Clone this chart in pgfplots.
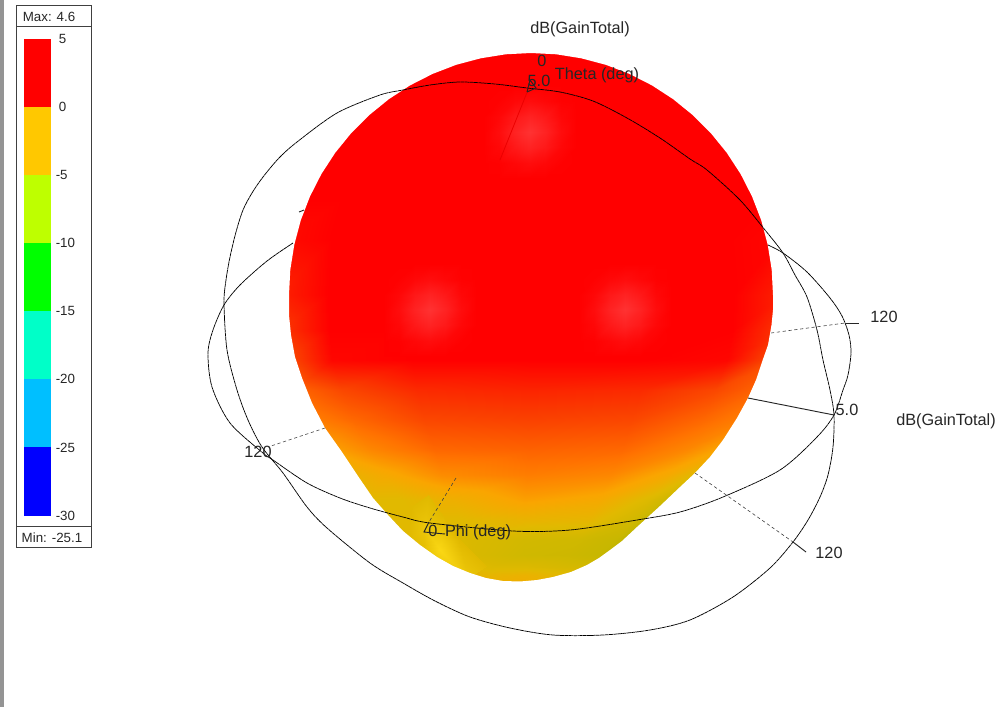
\documentclass[border=0pt]{standalone}
\usepackage{pgfplots}
\usepackage{pgfplotstable}
\usepackage{fontspec}
\setmainfont{Liberation Sans}
\pgfplotsset{compat=1.18}

\newcommand{\lab}{\fontsize{12.2}{14}\selectfont}
\newcommand{\sml}{\fontsize{10}{12}\selectfont}

% pattern surface in pixels of the reference: x y colour index
% (first and last columns run past the outline, the mask trims them)
\pgfplotstableread{
x y m
500 48 10
520.4 48 10
525.5 48 10
533 48 10
540.5 48 10
545.6 48 10
566 48 10
461 60 10
482.3 60 10
502 60 10
531 60 10
560 60 10
579.7 60 10
601 60 10
408 80 10
437.8 80 10
475.5 80 10
531 80 10
586.5 80 10
624.2 80 10
654 80 10
376 100 10
410.9 100 10
459.5 100 10
531 100 10
602.5 100 10
651.1 100 10
686 100 10
342 130 10
382.3 130 10
442.5 130 10
531 130 10
619.5 130 10
679.7 130 10
720 130 10
318 160 10
362.2 160 10
430.5 160 10
531 160 10
631.5 160 10
699.8 160 10
744 160 10
294 200 10
341.8 200 10
418 200 10
530 200 10
642 200 10
718.2 200 10
766 200 10
281 240 12
330.9 240 10
411.5 240 10
530 240 10
648.5 240 10
729.1 240 10
779 240 11
277 295 16
327.7 295 10
410 295 10
531 295 10
652 295 10
734.3 295 10
785 295 16
278 330 20
328.6 330 10
410.5 330 10
531 330 10
651.5 330 10
733.4 330 10
784 330 20
283 360 24
332.5 360 11
412.3 360 10
529.5 360 10
646.8 360 10
726.5 360 11
776 360 24
294 390 28
341.6 390 22
417.3 390 17
528.5 390 16
639.8 390 17
715.4 390 22
763 390 28
308 420 33
353.3 420 28
424 420 22
528 420 21
632 420 22
702.7 420 28
748 420 33
329 450 40
371 450 34
434.8 450 28
528.5 450 27
622.3 450 28
686 450 34
728 450 42
346 475 47
385 475 42
442.3 475 35
526.5 475 32
610.8 475 34
668 475 42
707 475 54
366 500 50
401.5 500 50
451.5 500 45
525 500 39
598.5 500 42
648.5 500 52
684 500 64
383 520 50
415.7 520 50
459.8 520 50
524.5 520 47
589.3 520 48
633.3 520 56
666 520 68
405 540 50
434.2 540 50
470.8 540 53
524.5 540 56
578.3 540 57
614.8 540 60
644 540 66
424 555 50
450.1 555 50
480 555 54
524 555 57
568 555 58
597.9 555 60
624 555 62
446 567 50
468.7 567 50
491.5 567 52
525 567 52
558.5 567 54
581.3 567 55
604 567 55
470 575 48
488.9 575 48
503.5 575 47
525 575 46
546.5 575 48
561.1 575 50
580 575 50
490 584 44
507.8 584 44
513.8 584 44
522.5 584 44
531.3 584 44
537.2 584 44
555 584 44
}\blob

% light spot, offsets in units of its radius
\pgfplotstableread{
dx dy m
-1 -1 10
-.667 -1 10
-.333 -1 10
0 -1 10
.333 -1 10
.667 -1 10
1 -1 10
-1 -.667 10
-.667 -.667 9.7
-.333 -.667 8.5
0 -.667 7.5
.333 -.667 8.5
.667 -.667 9.7
1 -.667 10
-1 -.333 10
-.667 -.333 8.5
-.333 -.333 5
0 -.333 3
.333 -.333 5
.667 -.333 8.5
1 -.333 10
-1 0 10
-.667 0 7.5
-.333 0 3
0 0 0
.333 0 3
.667 0 7.5
1 0 10
-1 .333 10
-.667 .333 8.5
-.333 .333 5
0 .333 3
.333 .333 5
.667 .333 8.5
1 .333 10
-1 .667 10
-.667 .667 9.7
-.333 .667 8.5
0 .667 7.5
.333 .667 8.5
.667 .667 9.7
1 .667 10
-1 1 10
-.667 1 10
-.333 1 10
0 1 10
.333 1 10
.667 1 10
1 1 10
}\spot

% bright streak at the lower left
\pgfplotstableread{
x y m
396 518 0
412 506 0
428 495 0
407 540 0
425 528 30
443 516 0
422 562 0
440 550 70
458 538 0
450 590 0
468 578 30
486 566 0
}\streak

\pgfplotsset{
  bar/.style={draw=none, mark=none},
  wire/.style={mark=none, black, line width=0.55pt, dash pattern=on 3pt off 0.35pt},
  dashes/.style={mark=none, black!75, line width=0.45pt, dash pattern=on 2.4pt off 2pt},
  tick/.style={mark=none, black!85, line width=0.7pt},
  box/.style={mark=none, black!75, line width=0.75pt},
}

\begin{document}
\begin{tikzpicture}
\begin{axis}[
    scale only axis,
    width=750pt,
    height=530.25pt,
    xmin=0, xmax=1000,
    ymin=0, ymax=707,
    y dir=reverse,
    hide axis,
    clip=true,
    point meta min=0,
    point meta max=70,
    colormap={streak}{
      rgb255(0)=(225,185,0)
      rgb255(70)=(250,215,20)
    },
    colormap={gain}{
      rgb255(0)=(255,50,50)
      rgb255(10)=(255,0,0)
      rgb255(20)=(250,60,0)
      rgb255(30)=(255,115,0)
      rgb255(40)=(250,165,0)
      rgb255(50)=(225,185,0)
      rgb255(60)=(200,183,0)
      rgb255(70)=(165,170,0)
    },
  ]

  % pattern
  \addplot[surf, shader=interp, mesh/rows=22, mesh/cols=7, point meta=\thisrow{m}] table[x=x, y=y] {\blob};
  \addplot[surf, shader=interp, mesh/rows=7, mesh/cols=7, point meta=\thisrow{m}]
    table[x expr=530+46*\thisrow{dx}, y expr=132+46*\thisrow{dy}] {\spot};
  \addplot[surf, shader=interp, mesh/rows=7, mesh/cols=7, point meta=\thisrow{m}]
    table[x expr=430+46*\thisrow{dx}, y expr=310+46*\thisrow{dy}] {\spot};
  \addplot[surf, shader=interp, mesh/rows=7, mesh/cols=7, point meta=\thisrow{m}]
    table[x expr=625+46*\thisrow{dx}, y expr=310+46*\thisrow{dy}] {\spot};
  \addplot[surf, shader=interp, colormap name=streak, mesh/rows=4, mesh/cols=3, point meta=\thisrow{m}] table[x=x, y=y] {\streak};
  \addplot[mark=none, line width=0.6pt, color={rgb,255:red,236;green,0;blue,0}] coordinates {(528,90) (500,160)};

  % white mask: page rectangle with the pattern outline cut out
  \addplot[draw=none, mark=none, fill=white] coordinates {
    (0,295) (289,295)
    (290.3,269.7) (294.3,244.7) (300.8,220.2) (309.9,196.6) (321.4,174) (335.2,152.8)
    (351.2,133.1) (369.1,115.2) (388.8,99.2) (410,85.4) (432.6,73.9) (456.2,64.8)
    (480.7,58.3) (505.7,54.3) (531,53) (556.3,54.3) (581.3,58.3) (605.8,64.8)
    (629.4,73.9) (652,85.4) (673.2,99.2) (692.9,115.2) (710.8,133.1) (726.8,152.8)
    (740.6,174) (752.1,196.6) (761.2,220.2) (767.7,244.7) (771.7,269.7) (773,295)
    (773,310) (771.5,325) (768,345) (762,362) (756,380) (748,398) (737,418) (723,440)
    (710,457) (695,473) (680,487) (660,506) (637,527) (622,541) (610,550) (599,558)
    (587,565) (571,572) (553,577) (537,580) (520,581.5) (503,581) (486,578) (470,573)
    (453,566) (437,557) (420,545) (403,531) (388,515) (373,498) (360,479) (342,452)
    (325,428) (312,403) (302,378) (295,357) (291,335) (289,315) (289,295)
    (0,295) (0,707) (1000,707) (1000,0) (0,0)
  } -- cycle;

  % window edge
  \addplot[bar, fill=black!42] coordinates {(0,0) (3.5,0) (3.5,707) (0,707)} -- cycle;

  % colour scale
  \addplot[bar, fill={rgb,255:red,255;green,0;blue,0}] coordinates {(23.5,39) (50.5,39) (50.5,107) (23.5,107)} -- cycle;
  \addplot[bar, fill={rgb,255:red,255;green,200;blue,0}] coordinates {(23.5,107) (50.5,107) (50.5,175) (23.5,175)} -- cycle;
  \addplot[bar, fill={rgb,255:red,190;green,255;blue,0}] coordinates {(23.5,175) (50.5,175) (50.5,243) (23.5,243)} -- cycle;
  \addplot[bar, fill={rgb,255:red,0;green,255;blue,0}] coordinates {(23.5,243) (50.5,243) (50.5,311) (23.5,311)} -- cycle;
  \addplot[bar, fill={rgb,255:red,0;green,255;blue,200}] coordinates {(23.5,311) (50.5,311) (50.5,379) (23.5,379)} -- cycle;
  \addplot[bar, fill={rgb,255:red,0;green,191;blue,255}] coordinates {(23.5,379) (50.5,379) (50.5,447) (23.5,447)} -- cycle;
  \addplot[bar, fill={rgb,255:red,0;green,0;blue,255}] coordinates {(23.5,447) (50.5,447) (50.5,516) (23.5,516)} -- cycle;
  \addplot[box] coordinates {(16,5) (91,5) (91,547) (16,547) (16,5)};
  \addplot[box] coordinates {(16,26) (91,26)};
  \addplot[box] coordinates {(16,526) (91,526)};

  % theta circle
  \addplot[wire, smooth cycle] coordinates {
    (380,95) (403,90) (430,85) (460,82) (495,84) (527,88) (560,92) (593,101) (627,118)
    (660,138) (690,159) (707,170) (740,200) (765,230) (783,253) (795,275) (807,297) (817,330)
    (823,360) (830,390) (834,415) (833,447) (828,475) (820,497) (808,520) (793,542)
    (770,568) (733,597) (690,620) (650,630) (603,635) (553,635) (510,628) (470,617)
    (435,601) (403,583) (370,563) (327,528) (307,507) (283,473) (262,447) (248,420)
    (237,390) (227,350) (224,303) (226,280) (230,257) (236,232) (243,210) (252,193)
    (263,177) (279,158) (297,142) (337,113)};
  % phi circle, back half hidden by the pattern
  \addplot[wire, smooth] coordinates {
    (768,245) (783,253) (807,272) (830,298) (842,316) (849,335) (851,353) (848,375)
    (843,390) (834,415) (817,437) (780,470) (723,497) (680,512) (637,520) (570,530)
    (513,531) (430,523) (403,517) (370,508) (340,498) (307,483) (273,460) (263,453)
    (230,423) (212,387) (208,353) (213,330) (224,305) (240,285) (267,261) (293,243)};

  % spokes
  \addplot[dashes] coordinates {(771,333) (845,323)};
  \addplot[tick] coordinates {(845,323) (859,323)};
  \addplot[dashes] coordinates {(695,473) (793,542)};
  \addplot[tick] coordinates {(793,542) (806,552)};
  \addplot[dashes] coordinates {(325,428) (268,447)};
  \addplot[tick] coordinates {(748,398) (834,415)};
  \addplot[dashes] coordinates {(456,478) (429,522)};
  \addplot[tick] coordinates {(429,522) (424,532) (445,534)};
  \addplot[tick] coordinates {(527,92) (530,80) (536,88) (527,92)};
  \addplot[tick] coordinates {(299,212) (304,210)};

  % labels
  \begin{scope}[every node/.style={inner sep=0pt, text=black!85}]
    \node[font=\sml] at (axis cs:49,17) {Max: 4.6};
    \node[font=\sml] at (axis cs:52,538) {Min: -25.1};
    \node[font=\sml, anchor=west] at (axis cs:58.5,39) {5};
    \node[font=\sml, anchor=west] at (axis cs:58.5,107) {0};
    \node[font=\sml, anchor=west] at (axis cs:55.5,175) {-5};
    \node[font=\sml, anchor=west] at (axis cs:55.5,243) {-10};
    \node[font=\sml, anchor=west] at (axis cs:55.5,311) {-15};
    \node[font=\sml, anchor=west] at (axis cs:55.5,379) {-20};
    \node[font=\sml, anchor=west] at (axis cs:55.5,448) {-25};
    \node[font=\sml, anchor=west] at (axis cs:55.5,516) {-30};
    \node[font=\lab] at (axis cs:580,29) {dB(GainTotal)};
    \node[font=\lab] at (axis cs:542,61) {0};
    \node[font=\lab] at (axis cs:539,81) {5.0};
    \node[font=\lab] at (axis cs:597,75) {Theta (deg)};
    \node[font=\lab] at (axis cs:884,317) {120};
    \node[font=\lab] at (axis cs:847,410) {5.0};
    \node[font=\lab] at (axis cs:946,421) {dB(GainTotal)};
    \node[font=\lab] at (axis cs:829,553) {120};
    \node[font=\lab] at (axis cs:258,452) {120};
    \node[font=\lab] at (axis cs:433,531) {0};
    \node[font=\lab] at (axis cs:478,532) {Phi (deg)};
  \end{scope}
\end{axis}
\end{tikzpicture}
\end{document}
